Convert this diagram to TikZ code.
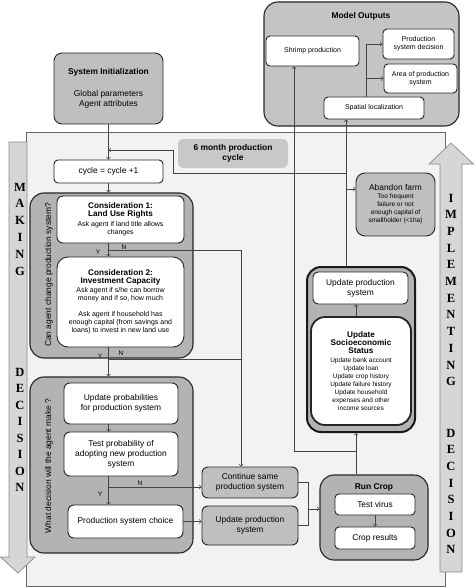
\documentclass[tikz,border=0pt]{standalone}
\usepackage{fontspec}
\setmainfont{Liberation Sans}
\newfontfamily\letterfont{Liberation Serif}
\definecolor{bggray}{HTML}{F2F2F2}
\definecolor{boxgray}{HTML}{BFBFBF}
\definecolor{grpgray}{HTML}{B3B3B3}
\definecolor{outgray}{HTML}{C4C4C4}
\definecolor{labelgray}{HTML}{C8C8C8}
\definecolor{arrgray}{HTML}{D6D6D6}
\definecolor{linegray}{HTML}{444444}
\newcommand{\mainsize}{\fontsize{8.4}{10}\selectfont}
\newcommand{\smallsize}{\fontsize{7}{8}\selectfont}
\newcommand{\tinysize}{\fontsize{6.5}{8}\selectfont}
\newcommand{\boldhead}{\fontsize{8.2}{10}\selectfont\bfseries}
\tikzset{
    whitebox/.style={draw=black!85, fill=white, rounded corners=4pt, line width=0.9pt, align=center, inner sep=1pt, font=\mainsize},
    graybox/.style={whitebox, fill=boxgray},
    groupbox/.style={draw=black!85, fill=grpgray, rounded corners=14pt, line width=1.1pt, inner sep=0pt},
    link/.style={draw=linegray, line width=0.7pt},
    yn/.style={font=\tinysize, inner sep=0pt},
    letter/.style={font=\letterfont\bfseries\fontsize{12.5}{12.5}\selectfont, inner sep=0pt},
    bigarrow/.style={fill=arrgray, draw=black!45, line width=0.7pt}
}
\begin{document}
\begin{tikzpicture}[x=1pt, y=-1pt]
    \useasboundingbox (0, 0) rectangle (474, 588);
    % production cycle background and the two big arrows
    \draw[fill=bggray, draw=black!60, line width=0.9pt] (26, 132) rectangle (445, 586);
    \draw[bigarrow] (9, 142) -- (27, 142) -- (27, 557) -- (35, 557) -- (18, 573) -- (0.5, 557) -- (9, 557) -- cycle;
    \draw[bigarrow] (440, 572) -- (440, 164) -- (429, 164) -- (451, 143) -- (473.5, 164) -- (462, 164) -- (462, 572) -- cycle;
    \foreach \ch [count=\i] in {M, A, K, I, N, G}
        \node[letter] (mk_\i) at (20, 170.2 + 16.8*\i) {\ch};
    \foreach \ch [count=\i] in {D, E, C, I, S, I, O, N}
        \node[letter] (md_\i) at (20, 355.5 + 16.5*\i) {\ch};
    \foreach \ch [count=\i] in {I, M, P, L, E, M, E, N, T, I, N, G}
        \node[letter] (ri_\i) at (451, 181.3 + 16.7*\i) {\ch};
    \foreach \ch [count=\i] in {D, E, C, I, S, I, O, N}
        \node[letter] (rd_\i) at (451, 416.3 + 16.7*\i) {\ch};
    % model outputs
    \node[groupbox, fill=outgray, minimum width=195pt, minimum height=124pt] (out_grp) at (361.5, 64) {};
    \node[font=\mainsize\bfseries] (out_title) at (361, 16) {Model Outputs};
    \node[whitebox, font=\smallsize, minimum width=93pt, minimum height=30pt] (shrimp) at (312.5, 51) {Shrimp production};
    \node[whitebox, font=\smallsize, minimum width=71pt, minimum height=30pt] (ps_decision) at (418.5, 44) {Production\\system decision};
    \node[whitebox, font=\smallsize, minimum width=73pt, minimum height=29pt] (ps_area) at (420.5, 78.5) {Area of production\\system};
    \node[whitebox, font=\smallsize, minimum width=100pt, minimum height=22pt] (spatial) at (374, 108) {Spatial localization};
    % initialization and cycle
    \node[graybox, rounded corners=8pt, minimum width=109pt, minimum height=71pt] (init) at (108.5, 88.5) {\textbf{System Initialization}\\[12pt]Global parameters\\Agent attributes};
    \node[whitebox, draw=none, fill=labelgray, rounded corners=5pt, minimum width=110pt, minimum height=29pt, font=\mainsize\bfseries] (cycle_label) at (233, 153.5) {6 month production\\cycle};
    \node[whitebox, minimum width=109pt, minimum height=23pt] (cycle) at (108.5, 171.5) {cycle = cycle +1};
    % making decision
    \node[groupbox, minimum width=163pt, minimum height=165pt] (consider_grp) at (111.5, 275.5) {};
    \node[rotate=90, font=\mainsize] (consider_q) at (49, 275) {Can agent change production system?};
    \node[whitebox, rounded corners=6pt, font=\smallsize, minimum width=127pt, minimum height=47pt] (land_use) at (120.5, 219.5) {\boldhead Consideration 1:\\\boldhead Land Use Rights\\[1.5pt]Ask agent if land title allows\\changes};
    \node[whitebox, rounded corners=11pt, font=\smallsize, minimum width=127pt, minimum height=90pt] (invest) at (120.5, 302) {\boldhead Consideration 2:\\\boldhead Investment Capacity\\[1.5pt]Ask agent if s/he can borrow\\money and if so, how much\\[8pt]Ask agent if household has\\enough capital (from savings and\\loans) to invest in new land use};
    \node[groupbox, minimum width=163pt, minimum height=176pt] (decide_grp) at (111.5, 465) {};
    \node[rotate=90, font=\mainsize] (decide_q) at (49, 466) {What decision will the agent make ?};
    \node[whitebox, rounded corners=6pt, minimum width=114pt, minimum height=41pt] (upd_prob) at (121, 403.5) {Update probabilities\\for production system};
    \node[whitebox, rounded corners=6pt, minimum width=114pt, minimum height=44pt] (test_prob) at (121, 454) {Test probability of\\adopting new production\\system};
    \node[whitebox, rounded corners=6pt, minimum width=115pt, minimum height=33pt] (ps_choice) at (125.5, 521.5) {Production system choice};
    \node[graybox, rounded corners=6pt, minimum width=96pt, minimum height=31pt] (keep_ps) at (250, 482.5) {Continue same\\production system};
    \node[graybox, rounded corners=6pt, minimum width=96pt, minimum height=39pt] (update_ps) at (250, 525.5) {Update production\\system};
    % implementing decision
    \node[groupbox, minimum width=108pt, minimum height=85pt] (crop_grp) at (374, 517.5) {};
    \node[font=\mainsize\bfseries] (crop_title) at (374, 487) {Run Crop};
    \node[whitebox, minimum width=80pt, minimum height=21pt] (virus) at (375, 504.5) {Test virus};
    \node[whitebox, minimum width=80pt, minimum height=22pt] (results) at (375, 538) {Crop results};
    \node[groupbox, line width=2pt, draw=black!90, minimum width=108pt, minimum height=165pt] (socio_grp) at (361, 349.5) {};
    \node[whitebox, rounded corners=5pt, minimum width=95pt, minimum height=32pt] (upd_prod) at (360.5, 288) {Update production\\system};
    \node[whitebox, line width=1.8pt, rounded corners=14pt, font=\tinysize, minimum width=100pt, minimum height=108pt] (socio) at (361, 371) {\boldhead Update\\\boldhead Socioeconomic\\\boldhead Status\\[1pt]Update bank account\\Update loan\\Update crop history\\Update failure history\\Update household\\expenses and other\\income sources};
    \node[graybox, rounded corners=9pt, font=\tinysize, minimum width=79pt, minimum height=63pt] (abandon) at (395.5, 204.5) {\mainsize Abandon farm\\Too frequent\\failure or not\\enough capital of\\smallholder (<1ha)};
    % connectors
    \coordinate (out_pnt) at (366, 44);
    \draw[link, ->] (out_pnt |- spatial.north) -- (out_pnt) -- (ps_decision.west);
    \draw[link, ->] (out_pnt |- ps_area.west) -- (ps_area.west);
    \draw[link, ->] (init.south) -- (cycle.north);
    \draw[link, ->] (cycle.south) -- (cycle.south |- consider_grp.north);
    \draw[link, ->] (cycle.south |- land_use.south) -- (cycle.south |- invest.north);
    \coordinate (no1_pnt) at (241, 250);
    \coordinate (no2_pnt) at (241, 359);
    \draw[link] (cycle.south |- no1_pnt) -- (no1_pnt);
    \draw[link] (cycle.south |- no2_pnt) -- (no2_pnt);
    \draw[link, ->] (no1_pnt) -- (no1_pnt |- keep_ps.north);
    \draw[link, ->] (cycle.south |- invest.south) -- (cycle.south |- decide_grp.north);
    \draw[link, ->] (cycle.south |- upd_prob.south) -- (cycle.south |- test_prob.north);
    \draw[link, ->] (cycle.south |- test_prob.south) -- (cycle.south |- ps_choice.north);
    \coordinate (no3_pnt) at (108.5, 487);
    \draw[link, ->] (no3_pnt) -- (no3_pnt -| keep_ps.west);
    \draw[link, ->] (ps_choice.east) -- (ps_choice.east -| update_ps.west);
    \coordinate (merge_pnt) at (308, 509);
    \draw[link] (keep_ps.east) -| (merge_pnt);
    \draw[link] (update_ps.east) -| (merge_pnt);
    \draw[link, ->] (merge_pnt) -- (merge_pnt -| crop_grp.west);
    \draw[link, ->] (virus.south) -- (results.north);
    \coordinate (crop_pnt) at (356, 451);
    \coordinate (shrimp_pnt) at (294, 451);
    \draw[link, ->] (crop_pnt |- crop_grp.north) -- (crop_pnt |- socio_grp.south);
    \draw[link, ->] (crop_pnt) -- (shrimp_pnt) -- (shrimp_pnt |- shrimp.south);
    \draw[link, ->] (crop_pnt |- socio.north) -- (crop_pnt |- upd_prod.south);
    \coordinate (loop_pnt) at (346, 173);
    \coordinate (back_pnt) at (173, 150);
    \coordinate (quit_pnt) at (346, 189);
    \draw[link, ->] (loop_pnt |- socio_grp.north) -- (loop_pnt |- spatial.south);
    \draw[link, ->] (quit_pnt) -- (quit_pnt -| abandon.west);
    \draw[link, ->] (loop_pnt) -| (back_pnt) -- (back_pnt -| init.south);
    % yes / no labels
    \node[yn] (y1) at (98, 252) {Y};
    \node[yn] (n1) at (124, 247) {N};
    \node[yn] (y2) at (100, 356) {Y};
    \node[yn] (n2) at (121, 353) {N};
    \node[yn] (y3) at (100, 494) {Y};
    \node[yn] (n3) at (140, 483) {N};
\end{tikzpicture}
\end{document}
